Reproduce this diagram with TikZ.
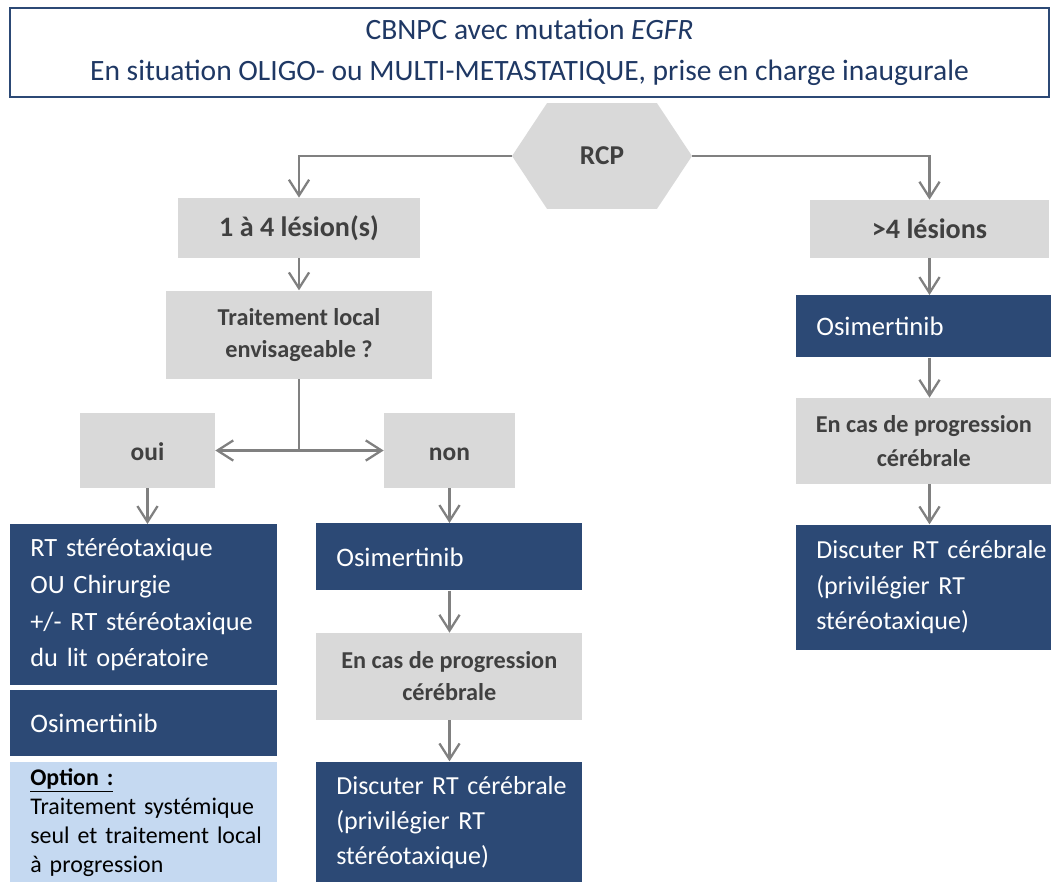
\documentclass[tikz,border=0pt]{standalone}
\usepackage{fontspec}
\setmainfont{Carlito}
\usepackage{tikz}
\usetikzlibrary{shapes,arrows.meta,positioning}
\definecolor{navy}{RGB}{44,73,117}
\definecolor{titleblue}{RGB}{31,56,100}
\definecolor{lgray}{RGB}{217,217,217}
\definecolor{dgray}{RGB}{64,64,64}
\definecolor{lblue}{RGB}{197,217,241}
\definecolor{arrgray}{RGB}{128,128,128}

\begin{document}
\begin{tikzpicture}[x=0.02cm,y=-0.02cm,->,>={Straight Barb[length=9pt,width=11.5pt]}]
\tikzstyle{grey box}=[fill=lgray,text=dgray,align=center,inner sep=0pt]
\tikzstyle{navy box}=[fill=navy,text=white,align=left,inner xsep=0.4cm,inner ysep=0pt,text width=4.54cm]
\tikzstyle{link}=[draw=arrgray,line width=1.3pt]
\useasboundingbox (0,0) rectangle (1051,882);

\node[draw=navy,line width=1.1pt,minimum width=20.78cm,minimum height=1.78cm,text=titleblue,align=center,
      font=\fontsize{16.8}{23}\selectfont] (title) at (529.5,52.5)
      {CBNPC avec mutation \textit{EGFR}\\En situation OLIGO- ou MULTI-METASTATIQUE, prise en charge inaugurale};

\node[grey box,shape=signal,signal to=west and east,signal pointer angle=113,minimum width=3.6cm,minimum height=2.12cm,
      font=\bfseries\fontsize{15.5}{18}\selectfont] (rcp) at (602,156) {RCP};

% left branch
\node[grey box,minimum width=4.84cm,minimum height=1.2cm,font=\bfseries\fontsize{16}{18}\selectfont] (l14) at (299,228) {1 à 4 lésion(s)};
\node[grey box,minimum width=5.32cm,minimum height=1.76cm,font=\bfseries\fontsize{13.8}{18.2}\selectfont,below=0.64cm of l14] (tl)
      {Traitement local\\envisageable ?};
\node[grey box,minimum width=2.7cm,minimum height=1.5cm,text height=2.3ex,text depth=0pt,
      font=\bfseries\fontsize{14.5}{18}\selectfont] (oui) at (147.5,450.5) {oui};
\node[grey box,minimum width=2.62cm,minimum height=1.5cm,text height=2.3ex,text depth=0pt,
      font=\bfseries\fontsize{14.5}{18}\selectfont] (non) at (449.5,450.5) {non};

\node[navy box,minimum height=3.22cm,anchor=north west,font=\fontsize{15}{20.8}\selectfont] (rt) at (10,524)
      {RT stéréotaxique\\OU Chirurgie\\\mbox{+/- RT stéréotaxique}\\du lit opératoire};
\node[navy box,minimum height=1.32cm,font=\fontsize{15.2}{20.4}\selectfont,below=0.08cm of rt] (osi1) {Osimertinib};
\node[navy box,fill=lblue,text=black,minimum height=2.44cm,font=\fontsize{13.6}{16.6}\selectfont,below=0.1cm of osi1] (opt)
      {\underline{\textbf{Option :}}\\\mbox{Traitement systémique}\\\mbox{seul et traitement local}\\à progression};

\node[navy box,text width=4.52cm,minimum height=1.34cm,anchor=north west,font=\fontsize{15.2}{20.4}\selectfont] (osi2) at (316,523) {Osimertinib};
\node[grey box,minimum width=5.32cm,minimum height=1.74cm,font=\bfseries\fontsize{13.8}{18.2}\selectfont,below=0.84cm of osi2] (prog2)
      {En cas de progression\\cérébrale};
\node[navy box,text width=4.52cm,minimum height=2.44cm,font=\fontsize{14.8}{19.9}\selectfont,below=0.82cm of prog2] (disc2)
      {\mbox{Discuter RT cérébrale}\\(privilégier RT\\stéréotaxique)};

% right branch
\node[grey box,minimum width=4.78cm,minimum height=1.16cm,font=\bfseries\fontsize{16}{18}\selectfont] (gt4) at (929.5,229) {>4 lésions};
\node[navy box,text width=4.3cm,minimum height=1.24cm,anchor=north west,font=\fontsize{15.2}{20.4}\selectfont] (osi3) at (796,295) {Osimertinib};
\node[grey box,minimum width=5.1cm,minimum height=1.72cm,font=\bfseries\fontsize{13.8}{19}\selectfont,below=0.8cm of osi3] (prog3)
      {En cas de progression\\cérébrale};
\node[navy box,text width=4.3cm,minimum height=2.5cm,font=\fontsize{14.8}{20.2}\selectfont,below=0.8cm of prog3] (disc3)
      {\mbox{Discuter RT cérébrale}\\(privilégier RT\\stéréotaxique)};

% connectors
\draw[link] (rcp.west) -| (l14.north);
\draw[link] (rcp.east) -| (gt4.north);
\draw[link] (l14.south) -- (l14.south |- tl.north);
\coordinate (fork) at (tl.south |- oui.east);
\draw[link,-] (tl.south) -- (fork);
\draw[link] (fork) -- (oui.east);
\draw[link] (fork) -- (non.west);
\draw[link] (oui.south) -- (oui.south |- rt.north);
\draw[link] (non.south) -- (non.south |- osi2.north);
\draw[link] (non.south |- osi2.south) -- (non.south |- prog2.north);
\draw[link] (non.south |- prog2.south) -- (non.south |- disc2.north);
\draw[link] (gt4.south) -- (gt4.south |- osi3.north);
\draw[link] (gt4.south |- osi3.south) -- (gt4.south |- prog3.north);
\draw[link] (gt4.south |- prog3.south) -- (gt4.south |- disc3.north);
\end{tikzpicture}
\end{document}
